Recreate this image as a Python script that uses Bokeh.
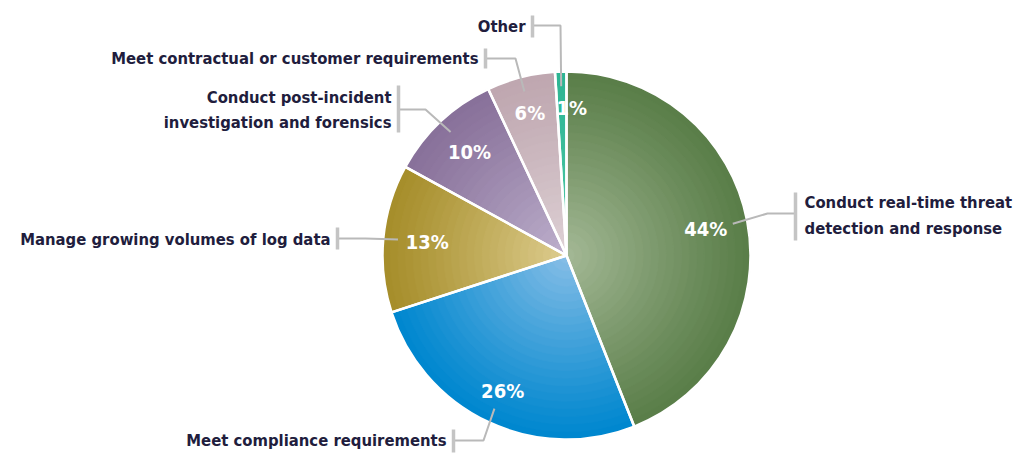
import numpy as np
from bokeh.plotting import figure
from bokeh.models import Range1d, ColumnDataSource
from bokeh.embed import file_html
from bokeh.resources import INLINE
from bokeh.core.properties import value

# ---------------- data ----------------
categories = [
    "Conduct real-time threat detection and response",
    "Meet compliance requirements",
    "Manage growing volumes of log data",
    "Conduct post-incident investigation and forensics",
    "Meet contractual or customer requirements",
    "Other",
]
label_lines = [
    ["Conduct real-time threat", "detection and response"],
    ["Meet compliance requirements"],
    ["Manage growing volumes of log data"],
    ["Conduct post-incident", "investigation and forensics"],
    ["Meet contractual or customer requirements"],
    ["Other"],
]
percents = [44, 26, 13, 10, 6, 1]
edge_colors = ["#5a7e49", "#0087cf", "#a68e2b", "#88719a", "#bfa7b0", "#2db593"]
center_colors = ["#a2b794", "#84bde6", "#dccb8c", "#bcaecb", "#ddd0d4", "#52c9a8"]

# label layout (page pixel coords): side, bar x, line y, elbow x, bar top/bottom, text rows
label_side = ["right", "left", "left", "left", "left", "left"]
bar_x = [795, 453, 337, 398, 485, 532]
bar_top = [192, 429, 227, 85, 48, 15]
bar_bot = [240, 452, 249, 132, 68, 37]
line_y = [213, 440, 238, 109, 58, 25]
elbow_x = [767, 483, 365, 425, 515, 560]
text_y = [[202, 228], [440], [239], [97, 122], [58], [26]]
pct_offset_x = [0, 0, 0, 0, 0, 10]

# ---------------- geometry ----------------
W, H = 1018, 454
CX, CY_IMG, R = 566, 255, 184


def Y(y_img):
    return H - y_img


CY = Y(CY_IMG)

p = figure(width=W, height=H, output_backend="svg", toolbar_location=None,
           x_range=Range1d(0, W), y_range=Range1d(0, H),
           min_border=0, outline_line_color=None)
p.axis.visible = False
p.grid.visible = False
p.background_fill_color = "white"
p.border_fill_color = "white"

vals = np.array(percents, dtype=float)
frac = vals / vals.sum()
cum = np.concatenate([[0], np.cumsum(frac)])
starts = np.pi / 2 - 2 * np.pi * cum[:-1]
ends = np.pi / 2 - 2 * np.pi * cum[1:]
mids = (starts + ends) / 2


def hex2rgb(h):
    h = h.lstrip("#")
    return np.array([int(h[i:i + 2], 16) for i in (0, 2, 4)], dtype=float)


def mix(a, b, t):
    c = hex2rgb(a) * (1 - t) + hex2rgb(b) * t
    return "#%02x%02x%02x" % tuple(int(round(v)) for v in c)


# radial gradient via concentric wedges
N = 24
for k in range(N):
    r = R * (N - k) / N
    t = (k / (N - 1)) ** 1.1
    cols = [mix(e, c, t) for e, c in zip(edge_colors, center_colors)]
    src = ColumnDataSource(dict(start=starts, end=ends, color=cols))
    p.wedge(x=CX, y=CY, radius=r, start_angle="start", end_angle="end",
            direction="clock", fill_color="color", line_color="color",
            line_width=1, source=src)

# white separators
p.wedge(x=CX, y=CY, radius=R, start_angle=starts, end_angle=ends,
        direction="clock", fill_alpha=0, line_color="white", line_width=2.5)

# leader lines
LINE_COL = "#b9b9b9"
for i in range(len(categories)):
    sx = CX + 0.92 * R * np.cos(mids[i])
    sy = CY + 0.92 * R * np.sin(mids[i])
    xs = [sx, elbow_x[i], bar_x[i]]
    ys = [sy, Y(line_y[i]), Y(line_y[i])]
    p.line(xs, ys, line_color=LINE_COL, line_width=2)
    p.segment(x0=bar_x[i], y0=Y(bar_top[i]), x1=bar_x[i], y1=Y(bar_bot[i]),
              line_color="#c4c4c4", line_width=3.5)

FONT = value("DejaVu Sans Condensed")
TXT_COL = "#211d3d"
for i in range(len(categories)):
    if label_side[i] == "right":
        tx = bar_x[i] + 9
        align = "left"
    else:
        tx = bar_x[i] - 7
        align = "right"
    for line, ty in zip(label_lines[i], text_y[i]):
        p.text(x=[tx], y=[Y(ty)], text=[line], text_align=align,
               text_baseline="middle", text_font=FONT, text_font_style="bold",
               text_font_size="16.5px", text_color=TXT_COL)

# percentage labels
pr = [0.77, 0.815, 0.76, 0.77, 0.8, 0.8]
px = [CX + pr[i] * R * np.cos(mids[i]) + pct_offset_x[i] for i in range(len(percents))]
py = [CY + pr[i] * R * np.sin(mids[i]) for i in range(len(percents))]
p.text(x=px, y=py, text=["%d%%" % v for v in percents], text_align="center",
       text_baseline="middle", text_font=FONT, text_font_style="bold",
       text_font_size="20px", text_color="white")

open("out.html", "w").write(file_html(p, INLINE))
